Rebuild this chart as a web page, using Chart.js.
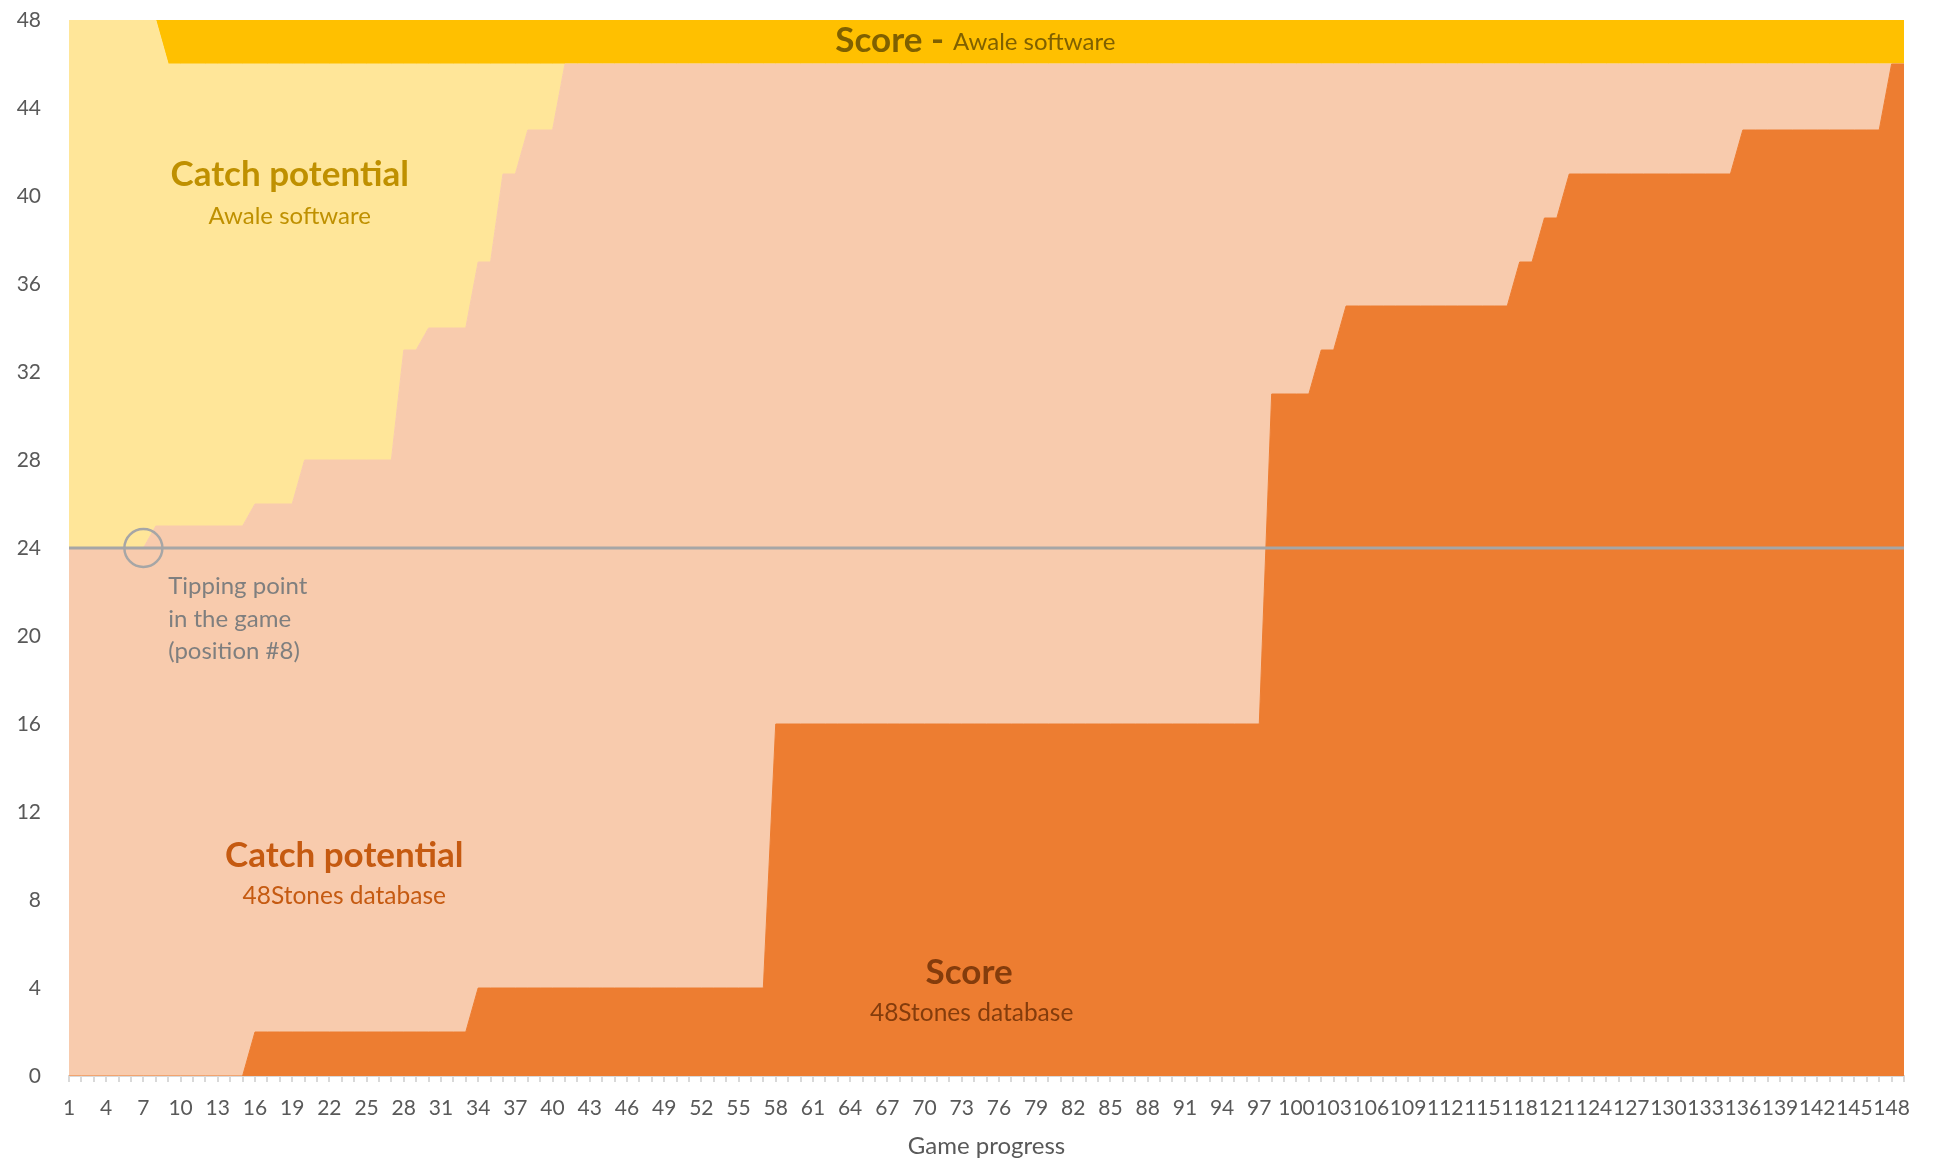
<!DOCTYPE html>
<html>
<head>
<meta charset="utf-8">
<title>Game progress</title>
<script src="https://cdn.jsdelivr.net/npm/chart.js@4.4.1/dist/chart.umd.min.js"></script>
<style>
  html, body { margin: 0; padding: 0; background: #fff; }
  #wrap { width: 1933px; height: 1163px; position: relative; }
</style>
</head>
<body>
<div id="wrap"><canvas id="awaleChart"></canvas></div>
<script>
// positions in the game (x categories)
const positions = [
  1, 2, 3, 4, 5, 6, 7, 8, 9, 10, 11, 12, 13, 14, 15, 16, 17, 18, 19, 20,
  21, 22, 23, 24, 25, 26, 27, 28, 29, 30, 31, 32, 33, 34, 35, 36, 37, 38, 39, 40,
  41, 42, 43, 44, 45, 46, 47, 48, 49, 50, 51, 52, 53, 54, 55, 56, 57, 58, 59, 60,
  61, 62, 63, 64, 65, 66, 67, 68, 69, 70, 71, 72, 73, 74, 75, 76, 77, 78, 79, 80,
  81, 82, 83, 84, 85, 86, 87, 88, 89, 90, 91, 92, 93, 94, 95, 96, 97, 98, 99, 100,
  101, 102, 103, 104, 105, 106, 107, 108, 109, 110, 111, 112, 113, 114, 115, 116, 117, 118, 119, 120,
  121, 122, 123, 124, 125, 126, 127, 128, 129, 130, 131, 132, 133, 134, 135, 136, 137, 138, 139, 140,
  141, 142, 143, 144, 145, 146, 147, 148, 149
];

// only every third position gets a label
const shownLabels = [1, 4, 7, 10, 13, 16, 19, 22, 25, 28, 31, 34, 37, 40, 43, 46, 49, 52, 55, 58,
  61, 64, 67, 70, 73, 76, 79, 82, 85, 88, 91, 94, 97, 100, 103, 106, 109, 112, 115, 118,
  121, 124, 127, 130, 133, 136, 139, 142, 145, 148];

const yMax = 48;
const yStep = 4;
const tippingValue = 24;
const tippingPosition = 7;

// stacked series (stones)
const score48Stones = [
  0, 0, 0, 0, 0, 0, 0, 0, 0, 0, 0, 0, 0, 0, 0,
  2, 2, 2, 2, 2, 2, 2, 2, 2, 2, 2, 2, 2, 2, 2, 2, 2, 2,
  4, 4, 4, 4, 4, 4, 4, 4, 4, 4, 4, 4,
  4, 4, 4, 4, 4, 4, 4, 4, 4, 4, 4, 4,
  16, 16, 16, 16, 16, 16, 16, 16, 16, 16, 16, 16, 16, 16, 16, 16, 16, 16, 16, 16,
  16, 16, 16, 16, 16, 16, 16, 16, 16, 16, 16, 16, 16, 16, 16, 16, 16, 16, 16, 16,
  31, 31, 31, 31,
  33, 33,
  35, 35, 35, 35, 35, 35, 35, 35, 35, 35, 35, 35, 35, 35,
  37, 37,
  39, 39,
  41, 41, 41, 41, 41, 41, 41, 41, 41, 41, 41, 41, 41, 41,
  43, 43, 43, 43, 43, 43, 43, 43, 43, 43, 43, 43,
  46, 46
];

const catch48Stones = [
  24, 24, 24, 24, 24, 24, 24,
  25, 25, 25, 25, 25, 25, 25, 25,
  24, 24, 24, 24,
  26, 26, 26, 26, 26, 26, 26, 26,
  31, 31,
  32, 32, 32, 32,
  33, 33,
  37, 37,
  39, 39, 39,
  42, 42, 42, 42, 42, 42, 42, 42, 42, 42, 42, 42, 42, 42, 42, 42, 42,
  30, 30, 30, 30, 30, 30, 30, 30, 30, 30, 30, 30, 30, 30, 30, 30, 30, 30, 30, 30,
  30, 30, 30, 30, 30, 30, 30, 30, 30, 30, 30, 30, 30, 30, 30, 30, 30, 30, 30, 30,
  15, 15, 15, 15,
  13, 13,
  11, 11, 11, 11, 11, 11, 11, 11, 11, 11, 11, 11, 11, 11,
  9, 9,
  7, 7,
  5, 5, 5, 5, 5, 5, 5, 5, 5, 5, 5, 5, 5, 5,
  3, 3, 3, 3, 3, 3, 3, 3, 3, 3, 3, 3,
  0, 0
];

const catchAwale = [
  24, 24, 24, 24, 24, 24, 24,
  23,
  21, 21, 21, 21, 21, 21, 21,
  20, 20, 20, 20,
  18, 18, 18, 18, 18, 18, 18, 18,
  13, 13,
  12, 12, 12, 12,
  9, 9,
  5, 5,
  3, 3, 3,
  0, 0, 0, 0, 0, 0, 0, 0, 0, 0, 0, 0, 0, 0, 0, 0, 0, 0, 0, 0,
  0, 0, 0, 0, 0, 0, 0, 0, 0, 0, 0, 0, 0, 0, 0, 0, 0, 0, 0, 0,
  0, 0, 0, 0, 0, 0, 0, 0, 0, 0, 0, 0, 0, 0, 0, 0, 0, 0, 0, 0,
  0, 0, 0, 0, 0, 0, 0, 0, 0, 0, 0, 0, 0, 0, 0, 0, 0, 0, 0, 0,
  0, 0, 0, 0, 0, 0, 0, 0, 0, 0, 0, 0, 0, 0, 0, 0, 0, 0, 0, 0,
  0, 0, 0, 0, 0, 0, 0, 0, 0
];

const scoreAwale = [
  0, 0, 0, 0, 0, 0, 0, 0,
  2, 2, 2, 2, 2, 2, 2, 2, 2, 2, 2, 2, 2, 2, 2, 2, 2, 2, 2, 2,
  2, 2, 2, 2, 2, 2, 2, 2, 2, 2, 2, 2, 2, 2, 2, 2, 2, 2, 2, 2,
  2, 2, 2, 2, 2, 2, 2, 2, 2, 2, 2, 2, 2, 2, 2, 2, 2, 2, 2, 2,
  2, 2, 2, 2, 2, 2, 2, 2, 2, 2, 2, 2, 2, 2, 2, 2, 2, 2, 2, 2,
  2, 2, 2, 2, 2, 2, 2, 2, 2, 2, 2, 2, 2, 2, 2, 2, 2, 2, 2, 2,
  2, 2, 2, 2, 2, 2, 2, 2, 2, 2, 2, 2, 2, 2, 2, 2, 2, 2, 2, 2,
  2, 2, 2, 2, 2, 2, 2, 2, 2, 2, 2, 2, 2, 2, 2, 2, 2, 2, 2, 2,
  2
];

const FONT = "Lato, 'Open Sans', sans-serif";

// text put on the areas: [text, position index, y value, size, bold, colour, align]
const notes = [
  ["Catch potential", 17.8, 40.95, 35, true, "#BF9000", "center"],
  ["Awale software", 17.8, 39.1, 24, false, "#BF9000", "center"],
  ["Tipping point", 8.0, 22.24, 24, false, "#7F7F7F", "left"],
  ["in the game", 8.0, 20.78, 24, false, "#7F7F7F", "left"],
  ["(position #8)", 8.0, 19.32, 24, false, "#7F7F7F", "left"],
  ["Catch potential", 22.2, 10.0, 35, true, "#C55A11", "center"],
  ["48Stones database", 22.2, 8.18, 24.5, false, "#C55A11", "center"],
  ["Score", 72.6, 4.68, 35, true, "#843C0C", "center"],
  ["48Stones database", 72.8, 2.86, 24.5, false, "#843C0C", "center"]
];

const notesPlugin = {
  id: "notes",
  afterDatasetsDraw(chart) {
    const { ctx, chartArea, scales: { x, y } } = chart;
    ctx.save();

    // tipping point line + circle
    const ty = y.getPixelForValue(tippingValue);
    ctx.strokeStyle = "#A6A6A6";
    ctx.lineWidth = 3;
    ctx.beginPath();
    ctx.moveTo(chartArea.left, ty);
    ctx.lineTo(chartArea.right, ty);
    ctx.stroke();
    ctx.lineWidth = 2.5;
    ctx.beginPath();
    ctx.arc(x.getPixelForValue(tippingPosition - 1), ty, 19, 0, Math.PI * 2);
    ctx.stroke();

    ctx.textBaseline = "middle";
    notes.forEach(n => {
      ctx.font = (n[4] ? "bold " : "") + n[3] + "px " + FONT;
      ctx.fillStyle = n[5];
      ctx.textAlign = n[6];
      ctx.fillText(n[0], x.getPixelForValue(n[1]), y.getPixelForValue(n[2]));
    });

    // top band title, two fonts on one line
    const boldPart = "Score -", thinPart = "Awale software";
    ctx.textAlign = "left";
    ctx.font = "bold 35px " + FONT;
    const w1 = ctx.measureText(boldPart).width;
    ctx.font = "24px " + FONT;
    const w2 = ctx.measureText(thinPart).width;
    const gap = 9;
    let tx = x.getPixelForValue(73.1) - (w1 + gap + w2) / 2;
    const topY = y.getPixelForValue(47.07);
    ctx.fillStyle = "#7F6000";
    ctx.font = "bold 35px " + FONT;
    ctx.fillText(boldPart, tx, topY);
    ctx.font = "24px " + FONT;
    ctx.fillText(thinPart, tx + w1 + gap, topY + 2);

    ctx.restore();
  }
};

function area(label, data, color, fill) {
  return {
    label: label,
    data: data,
    backgroundColor: color,
    borderColor: color,
    borderWidth: 1,
    pointRadius: 0,
    pointHoverRadius: 0,
    tension: 0,
    fill: fill
  };
}

const ctx = document.getElementById("awaleChart").getContext("2d");

new Chart(ctx, {
  type: "line",
  data: {
    labels: positions,
    datasets: [
      area("Score - 48Stones database", score48Stones, "#ED7D31", "origin"),
      area("Catch potential - 48Stones database", catch48Stones, "#F8CBAD", "-1"),
      area("Catch potential - Awale software", catchAwale, "#FFE699", "-1"),
      area("Score - Awale software", scoreAwale, "#FFC000", "-1")
    ]
  },
  options: {
    responsive: true,
    maintainAspectRatio: false,
    animation: false,
    layout: { padding: { left: 0, right: 29, top: 20, bottom: 0 } },
    plugins: {
      legend: { display: false },
      tooltip: { enabled: false }
    },
    scales: {
      x: {
        offset: false,
        grid: {
          drawOnChartArea: false,
          drawTicks: true,
          tickLength: 6,
          color: "#D9D9D9",
          lineWidth: 2
        },
        border: { display: true, color: "#D9D9D9", width: 2 },
        ticks: {
          autoSkip: false,
          maxRotation: 0,
          minRotation: 0,
          padding: 14,
          color: "#595959",
          font: { family: FONT, size: 21 },
          callback: function (val) {
            const lab = this.getLabelForValue(val);
            return shownLabels.includes(Number(lab)) ? String(lab) : "";
          }
        },
        title: {
          display: true,
          text: "Game progress",
          color: "#595959",
          font: { family: FONT, size: 24 },
          padding: { top: 0, bottom: 2 }
        },
        afterFit: function (scale) { scale.height = 87; }
      },
      y: {
        stacked: true,
        min: 0,
        max: yMax,
        grid: { display: false, drawTicks: false },
        border: { display: false },
        ticks: {
          stepSize: yStep,
          padding: 28,
          color: "#595959",
          font: { family: FONT, size: 21 }
        },
        afterFit: function (scale) {
          scale.width = 69;
          // label padding would otherwise push the plot down
          scale.paddingTop = 0;
          scale.paddingBottom = 0;
        }
      }
    }
  },
  plugins: [notesPlugin]
});
</script>
</body>
</html>
